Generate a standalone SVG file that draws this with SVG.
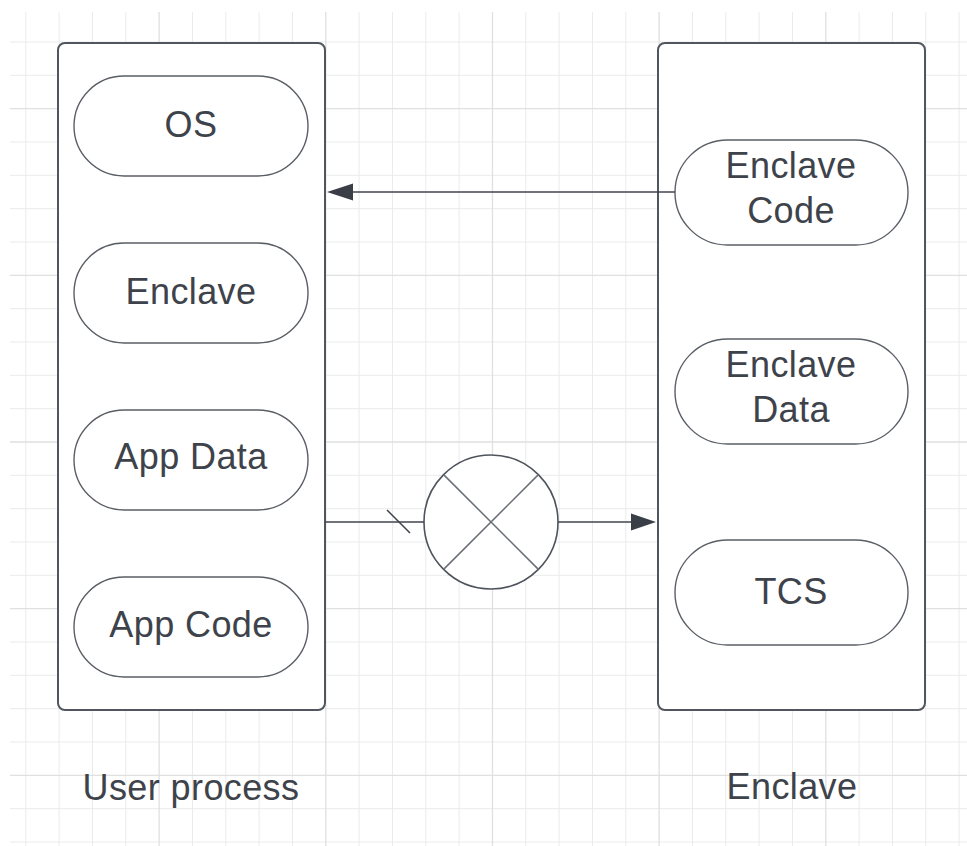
<svg xmlns="http://www.w3.org/2000/svg" width="967" height="846" viewBox="0 0 967 846">
  <defs>
    <style>
      .grid-minor { stroke: #ebebeb; stroke-width: 1; fill: none; }
      .grid-major { stroke: #e0e0e0; stroke-width: 1.3; fill: none; }
      .container { fill: #ffffff; stroke: #51565e; stroke-width: 2; }
      .pill { fill: #ffffff; stroke: #5a5f66; stroke-width: 1.4; }
      .edge { stroke: #40454d; stroke-width: 1.6; fill: none; }
      .head { fill: #3a3f47; stroke: none; }
      .label { font-family: "Liberation Sans", Arial, sans-serif; font-size: 36px; letter-spacing: 0.4px; fill: #3e434b; text-anchor: middle; }
    </style>
  </defs>

  <rect x="0" y="0" width="967" height="846" fill="#ffffff"/>

  <!-- background grid -->
  <g id="grid">
    <path class="grid-minor" d="M25.8 12V846 M59.1 12V846 M92.5 12V846 M125.8 12V846 M192.5 12V846 M225.8 12V846 M259.1 12V846 M292.5 12V846 M359.1 12V846 M392.5 12V846 M425.8 12V846 M459.1 12V846 M525.8 12V846 M559.1 12V846 M592.5 12V846 M625.8 12V846 M692.5 12V846 M725.8 12V846 M759.1 12V846 M792.5 12V846 M859.1 12V846 M892.5 12V846 M925.8 12V846 M959.1 12V846"/>
    <path class="grid-minor" d="M10 42H967 M10 75.3H967 M10 142H967 M10 175.3H967 M10 208.7H967 M10 242H967 M10 308.7H967 M10 342H967 M10 375.3H967 M10 408.7H967 M10 475.3H967 M10 508.7H967 M10 542H967 M10 575.3H967 M10 642H967 M10 675.3H967 M10 708.7H967 M10 742H967 M10 808.7H967 M10 842H967"/>
    <path class="grid-major" d="M159.1 12V846 M325.8 12V846 M492.5 12V846 M659.1 12V846 M825.8 12V846"/>
    <path class="grid-major" d="M10 108.7H967 M10 275.3H967 M10 442H967 M10 608.7H967 M10 775.3H967"/>
  </g>

  <!-- user process container and its parts -->
  <g id="user-process">
    <rect class="container" x="58" y="43" width="267" height="667" rx="7"/>
    <text class="label" x="191" y="800">User process</text>
  </g>
  <g id="os">
    <rect class="pill" x="74" y="76" width="234" height="100" rx="50"/>
    <text class="label" x="191" y="137">OS</text>
  </g>
  <g id="enclave-ref">
    <rect class="pill" x="74" y="243" width="234" height="100" rx="50"/>
    <text class="label" x="191" y="304">Enclave</text>
  </g>
  <g id="app-data">
    <rect class="pill" x="74" y="410" width="234" height="100" rx="50"/>
    <text class="label" x="191" y="469">App Data</text>
  </g>
  <g id="app-code">
    <rect class="pill" x="74" y="577" width="234" height="100" rx="50"/>
    <text class="label" x="191" y="637">App Code</text>
  </g>

  <!-- enclave container and its parts -->
  <g id="enclave">
    <rect class="container" x="658" y="43" width="267" height="667" rx="7"/>
    <text class="label" x="792" y="799">Enclave</text>
  </g>
  <g id="enclave-code">
    <rect class="pill" x="675" y="140" width="233" height="105" rx="52.5"/>
    <text class="label" x="791" y="178">Enclave</text>
    <text class="label" x="791" y="223">Code</text>
  </g>
  <g id="enclave-data">
    <rect class="pill" x="675" y="339" width="233" height="105" rx="52.5"/>
    <text class="label" x="791" y="377">Enclave</text>
    <text class="label" x="791" y="422">Data</text>
  </g>
  <g id="tcs">
    <rect class="pill" x="675" y="540" width="233" height="105" rx="52.5"/>
    <text class="label" x="791" y="604">TCS</text>
  </g>

  <!-- blocked access: summing junction with a cross -->
  <g id="junction">
    <circle cx="491" cy="522" r="67" fill="#ffffff" stroke="#4f545c" stroke-width="1.6"/>
    <path d="M443.6 474.6L538.4 569.4 M538.4 474.6L443.6 569.4" stroke="#6a6f76" stroke-width="1.5" fill="none"/>
  </g>

  <!-- connectors -->
  <g id="connectors">
    <path class="edge" d="M675 192H345"/>
    <polygon class="head" points="327,192 353,183.5 353,200.5"/>
    <path class="edge" d="M325 522H424"/>
    <path class="edge" d="M387 510L410 533" stroke="#666b72" stroke-width="1.3"/>
    <path class="edge" d="M558 522H640"/>
    <polygon class="head" points="656,522 631,513.5 631,530.5"/>
  </g>
</svg>
